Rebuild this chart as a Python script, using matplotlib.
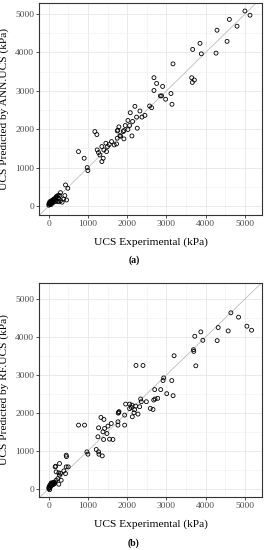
import matplotlib
matplotlib.use("Agg")
import matplotlib.pyplot as plt
from matplotlib.ticker import MultipleLocator

plt.rcParams['font.family'] = ['Liberation Serif', 'DejaVu Serif']

# panel (a): ANN.UCS predictions
ann_x = [5000, 5130, 4604, 4800, 4289, 4545, 3668, 3855, 3889, 4264, 3166, 3643, 3660, 3711,
         2681, 2749, 2902, 2681, 2843, 2877, 3115, 2979, 3140, 2570, 2621, 2196, 2323, 2077,
         2451, 2374, 2238, 2017, 2136, 1949, 1787, 2060, 2255, 1745, 1760, 2017, 1915, 2119,
         1174, 1226, 1898, 1830, 1745, 1813, 1915, 1728, 1600, 1455, 1498, 1353, 1234, 1268,
         1302, 1404, 1387, 1353, 1472, 1668, 1540, 757, 902, 979, 996, 426, 485, 298, 281,
         409, 451, 196, 26,
         0, 10, 20, 30, 40, 50, 60, 70, 80, 90, 100, 110, 120, 130, 150, 170, 190, 210, 240,
         150, 180, 220, 260, 300, 340, 380, 250, 5, 60, 100]
ann_y = [5080, 4970, 4860, 4684, 4579, 4289, 4079, 4237, 3965, 3982, 3702, 3342, 3219, 3281,
         3342, 3193, 3114, 3009, 2868, 2868, 2930, 2781, 2649, 2605, 2561, 2596, 2474, 2430,
         2360, 2316, 2316, 2228, 2202, 2096, 2061, 2096, 2026, 1956, 1975, 1991, 1965, 1825,
         1939, 1861, 1939, 1817, 1765, 1835, 1748, 1617, 1678, 1635, 1548, 1548, 1461, 1391,
         1330, 1461, 1243, 1157, 1417, 1591, 1600, 1417, 1243, 1000, 922, 548, 461, 348, 270,
         270, 157, 243, 113,
         20, 50, 80, 40, 100, 70, 110, 130, 90, 150, 120, 160, 140, 180, 190, 200, 230, 250, 280,
         110, 130, 120, 110, 140, 100, 180, 200, 60, 40, 80]

# panel (b): RF.UCS predictions
rf_x = [4642, 4838, 5051, 5170, 4319, 4574, 3876, 3722, 3927, 4293, 3688, 3697, 3748, 3194,
        2223, 2402, 2930, 2913, 3135, 2700, 2853, 2709, 2777, 3007, 3169, 2342, 2487, 1959,
        2061, 2120, 2215, 2104, 2060, 2190, 2359, 2675, 2317, 2589, 2657, 2274, 2129, 2172,
        1934, 1780, 1790, 1770, 1763, 1763, 1934, 1329, 1405, 758, 911, 1593, 1508, 1422,
        1269, 1380, 1482, 1252, 1397, 1550, 1635, 971, 997, 1210, 1269, 1278, 1363, 443,
        450, 273, 162, 175, 443, 494, 383, 187, 255, 300, 426, 273, 230, 315, 187, 255,
        0, 10, 20, 30, 40, 50, 60, 70, 80, 90, 100, 110, 120, 130, 140, 20, 150, 60, 100, 5]
rf_y = [4637, 4522, 4283, 4177, 4248, 4159, 4133, 4018, 3912, 3903, 3664, 3619, 3239, 3504,
        3248, 3248, 2920, 2850, 2850, 2611, 2611, 2363, 2381, 2504, 2451, 2363, 2292, 2229,
        2229, 2200, 2176, 2141, 2110, 2080, 2291, 2335, 2159, 2115, 2088, 1965, 1894, 2000,
        1938, 2009, 2030, 1990, 1762, 1674, 1674, 1877, 1824, 1674, 1674, 1718, 1648, 1586,
        1603, 1498, 1454, 1366, 1295, 1304, 1295, 969, 907, 1031, 969, 907, 863, 881,
        843, 661, 573, 590, 573, 573, 467, 441, 414, 400, 396, 352, 264, 220, 220, 115,
        0, 40, 80, 20, 100, 60, 120, 90, 140, 110, 150, 130, 160, 120, 170, -30, 140, 150, 100, 30]

ticks = [0, 1000, 2000, 3000, 4000, 5000]


def draw_panel(ax, x, y, ylabel, ylim):
    ax.set_xlim(-250, 5436)
    ax.set_ylim(*ylim)
    ax.xaxis.set_minor_locator(MultipleLocator(500))
    ax.yaxis.set_minor_locator(MultipleLocator(500))
    ax.set_xticks(ticks)
    ax.set_yticks(ticks)
    ax.grid(True, which='major', color='#e6e6e6', lw=0.6)
    ax.grid(True, which='minor', color='#f0f0f0', lw=0.4)
    ax.set_axisbelow(True)
    ax.axline((0, 0), slope=1, color='#bdbdbd', lw=0.6, zorder=2)
    ax.scatter(x, y, s=8, facecolors='none', edgecolors='black', linewidths=0.6, zorder=3)
    for sp in ax.spines.values():
        sp.set_color('#333333')
        sp.set_linewidth(0.8)
    ax.tick_params(which='major', length=2, width=0.6, color='#333333',
                   labelsize=6.8, labelcolor='#4d4d4d', pad=1.5)
    ax.tick_params(which='minor', length=0)
    ax.set_xlabel('UCS Experimental (kPa)', fontsize=8.2)
    ax.set_ylabel(ylabel, fontsize=8.2)
    ax.xaxis.set_label_coords(0.5, -0.105)
    ax.yaxis.set_label_coords(-0.135, 0.5)


fig = plt.figure(figsize=(2.68, 5.5), dpi=100)
ax1 = fig.add_axes([39 / 268, 1 - 215 / 550, 223 / 268, 212 / 550])
draw_panel(ax1, ann_x, ann_y, 'UCS Predicted by ANN.UCS (kPa)', (-235, 5288))
fig.text(0.5, 1 - 260 / 550, '(a)', ha='center', va='center', fontsize=7, fontweight='bold')

ax2 = fig.add_axes([39 / 268, 1 - 497 / 550, 223 / 268, 214 / 550])
draw_panel(ax2, rf_x, rf_y, 'UCS Predicted by RF.UCS (kPa)', (-222, 5423))
fig.text(0.5, 1 - 543 / 550, '(b)', ha='center', va='center', fontsize=7, fontweight='bold')

fig.savefig('out.png', dpi=100)
